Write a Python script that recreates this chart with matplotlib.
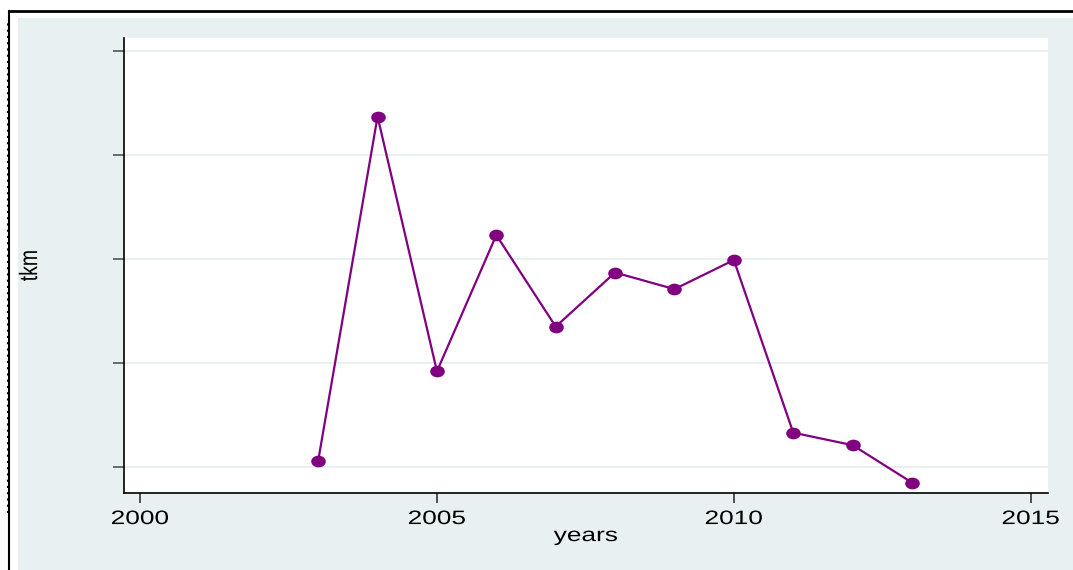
import matplotlib.pyplot as plt
from matplotlib.patches import Rectangle
from matplotlib.lines import Line2D
from matplotlib.path import Path
from matplotlib.transforms import Affine2D
from matplotlib.patheffects import AbstractPathEffect

years = [2003, 2004, 2005, 2006, 2007, 2008, 2009, 2010, 2011, 2012, 2013]
tkm = [0.06, 3.37, 0.92, 2.23, 1.35, 1.87, 1.71, 1.99, 0.33, 0.21, -0.15]
xticks = [2000, 2005, 2010, 2015]
yticks = [0, 1, 2, 3, 4]

plt.rcParams['font.family'] = ['Liberation Sans', 'DejaVu Sans']


class Stretch(AbstractPathEffect):
    # scale text about its centre (the source graph is stretched sideways)
    def __init__(self, sx=1.0, sy=1.0):
        super().__init__()
        self.sx, self.sy = sx, sy

    def draw_path(self, renderer, gc, tpath, affine, rgbFace=None):
        ext = tpath.get_extents()
        cx = (ext.x0 + ext.x1) / 2
        cy = (ext.y0 + ext.y1) / 2
        t = Affine2D().translate(-cx, -cy).scale(self.sx, self.sy).translate(cx, cy)
        renderer.draw_path(gc, tpath, t + affine, rgbFace)


fig = plt.figure(figsize=(10.73, 5.70), dpi=100)
fig.patch.set_facecolor('white')

W, H = 1073, 570
# light background panel
fig.patches.append(Rectangle((18 / W, 0), 1 - 18 / W, 1 - 18 / H,
                             transform=fig.transFigure, facecolor='#e9f0f2',
                             edgecolor='none', zorder=-10))
# outer frame lines (top and left)
fig.lines.append(Line2D([9 / W, 1], [1 - 11 / H, 1 - 11 / H],
                        transform=fig.transFigure, color='black', lw=2))
fig.lines.append(Line2D([9 / W, 9 / W], [0, 1 - 11 / H],
                        transform=fig.transFigure, color='black', lw=1.5))
fig.lines.append(Line2D([7.5 / W, 7.5 / W], [0.1, 1 - 20 / H],
                        transform=fig.transFigure, color='black', lw=1.5,
                        ls=(0, (1, 2))))

ax = fig.add_axes([124 / W, 77 / H, 924 / W, 455 / H])
ax.set_zorder(5)
ax.set_facecolor('white')

ellipse = Path.unit_circle().transformed(Affine2D().scale(1, 0.78))
ax.plot(years, tkm, color='#800080', lw=1.6, marker=ellipse, markersize=9.5,
        zorder=3)

ax.set_xlim(1999.73, 2015.29)
ax.set_ylim(-0.25, 4.125)
ax.set_xticks(xticks)
ax.set_yticks(yticks)
ax.set_yticklabels([])
ax.grid(axis='y', color='#e9f0f2', lw=1.5)
ax.set_axisbelow(True)

for s in ['top', 'right']:
    ax.spines[s].set_visible(False)
for s in ['left', 'bottom']:
    ax.spines[s].set_color('black')
    ax.spines[s].set_linewidth(1.2)

ax.tick_params(axis='y', length=8, width=1.2, color='#555555')
ax.tick_params(axis='x', length=7, width=1.2, color='#333333',
               labelsize=14, pad=6)
for lab in ax.get_xticklabels():
    lab.set_path_effects([Stretch(sx=1.35)])

xl = ax.set_xlabel('years', fontsize=14, labelpad=0)
xl.set_path_effects([Stretch(sx=1.35)])
yl = ax.set_ylabel('tkm', fontsize=14)
yl.set_path_effects([Stretch(sy=1.3)])
ax.yaxis.set_label_coords(-0.092, 0.5)

fig.savefig('out.png', dpi=100)
